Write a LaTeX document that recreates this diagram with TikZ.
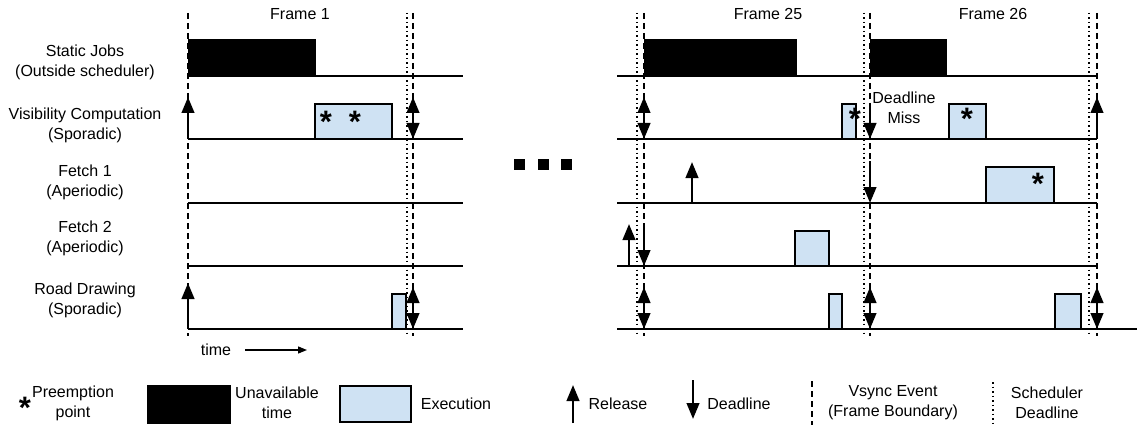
\documentclass[tikz,border=0pt]{standalone}
\usepackage{fontspec}
\setmainfont{Liberation Sans}
\usetikzlibrary{arrows.meta}
\definecolor{execblue}{HTML}{CFE2F3}
\begin{document}
\begin{tikzpicture}[x=1pt,y=-1pt,
  lbl/.style={font=\fontsize{16}{20}\selectfont, align=center, inner sep=0pt},
  baseln/.style={line width=2pt},
  unav/.style={fill=black,draw=black,line width=1pt},
  exec/.style={fill=execblue,draw=black,line width=1.6pt},
  vsync/.style={line width=1.5pt, dash pattern=on 6pt off 4pt},
  sched/.style={line width=1.5pt, dash pattern=on 1.5pt off 3pt},
  tip/.tip={Triangle[width=12.5pt,length=16pt]},
  arr/.style={line width=2.6pt,-tip},
  darr/.style={line width=2.6pt,tip-tip},
  starmark/.style={font=\bfseries\fontsize{31}{31}\selectfont, inner sep=0pt, anchor=base, text depth=0pt},
  dotsq/.style={fill=black, minimum size=11pt, inner sep=0pt}
]
\useasboundingbox (0,0) rectangle (1137,425);

% ---- task labels
\node[lbl] (tStatic) at (85,62) {Static Jobs\\(Outside scheduler)};
\node[lbl] (tVis) at (85,125.5) {Visibility Computation\\(Sporadic)};
\node[lbl] (tF1) at (85,182) {Fetch 1\\(Aperiodic)};
\node[lbl] (tF2) at (85,238.5) {Fetch 2\\(Aperiodic)};
\node[lbl] (tRoad) at (85,300) {Road Drawing\\(Sporadic)};

% ---- frame labels
\node[lbl] (fr1) at (300,14) {Frame 1};
\node[lbl] (fr25) at (768,14) {Frame 25};
\node[lbl] (fr26) at (993,14) {Frame 26};

% ---- vertical boundaries
\draw[vsync] (188,13) -- (188,336);
\draw[sched] (407,13) -- (407,336);
\draw[vsync] (413,13) -- (413,336);
\draw[sched] (637,13) -- (637,336);
\draw[vsync] (644,13) -- (644,336);
\draw[sched] (864,13) -- (864,336);
\draw[vsync] (870,13) -- (870,336);
\draw[sched] (1089,13) -- (1089,336);
\draw[vsync] (1097,13) -- (1097,336);

% ---- baselines
\foreach \yy in {76,139,203,266,329} {
  \draw[baseln] (188,\yy) -- (463,\yy);
}
\foreach \yy in {76,139,203,266} {
  \draw[baseln] (617,\yy) -- (1097,\yy);
}
\draw[baseln] (617,329) -- (1137,329);

% ---- unavailable time
\draw[unav] (188,40) rectangle (315,76);
\draw[unav] (644,40) rectangle (796,76);
\draw[unav] (870,40) rectangle (946,76);

% ---- executions
\draw[exec] (315,104) rectangle (392,139);
\draw[exec] (392,294) rectangle (406,329);
\draw[exec] (842,104) rectangle (856,139);
\draw[exec] (949,104) rectangle (986,139);
\draw[exec] (986,167) rectangle (1054,203);
\draw[exec] (795,231) rectangle (829,266);
\draw[exec] (829,294) rectangle (842,329);
\draw[exec] (1055,294) rectangle (1081,329);

% ---- preemption points
\node[starmark] (s1) at (326,132) {*};
\node[starmark] (s2) at (355,132) {*};
\node[starmark] (s3) at (855,130) {*};
\node[starmark] (s4) at (967,130) {*};
\node[starmark] (s5) at (1038,194) {*};

% ---- releases and deadlines
\draw[arr] (188,139) -- (188,97);
\draw[darr] (413,97) -- (413,139);
\draw[arr] (188,329) -- (188,283);
\draw[darr] (413,287) -- (413,329);

\draw[darr] (644,97) -- (644,139);
\draw[arr] (870,103) -- (870,139);
\draw[arr] (1097,139) -- (1097,97);
\draw[arr] (692,203) -- (692,162);
\draw[arr] (870,161) -- (870,203);
\draw[arr] (629,266) -- (629,224);
\draw[arr] (644,224) -- (644,266);
\draw[darr] (644,287) -- (644,329);
\draw[darr] (870,287) -- (870,329);
\draw[darr] (1097,287) -- (1097,329);

\node[lbl] (miss) at (904,107.5) {Deadline\\Miss};

% ---- ellipsis squares
\node[dotsq] (d1) at (519,164) {};
\node[dotsq] (d2) at (543,164) {};
\node[dotsq] (d3) at (566,164) {};

% ---- time axis
\node[lbl] (time) at (216,350) {time};
\coordinate (tA) at (245,350);
\coordinate (tB) at (307,350);
\draw[line width=1.3pt,-{Triangle[width=7pt,length=9pt]}] (tA) -- (tB);

% ---- legend
\node[starmark] (lstar) at (25,418.5) {*};
\node[lbl] (lPre) at (73,403) {Preemption\\point};
\draw[unav] (147,385) rectangle (230,423);
\node[lbl] (lUn) at (277,403) {Unavailable\\time};
\draw[exec] (340,386) rectangle (411,422);
\node[lbl] (lEx) at (456,404) {Execution};
\draw[arr] (573,423) -- (573,385);
\node[lbl] (lRel) at (618,404) {Release};
\draw[arr] (693,380) -- (693,419);
\node[lbl] (lDl) at (739,404) {Deadline};
\draw[vsync] (812,381) -- (812,425);
\node[lbl] (lVs) at (893,403) {Vsync Event\\(Frame Boundary)};
\draw[sched] (993,382) -- (993,425);
\node[lbl] (lSc) at (1047,403) {Scheduler\\Deadline};
\end{tikzpicture}
\end{document}
